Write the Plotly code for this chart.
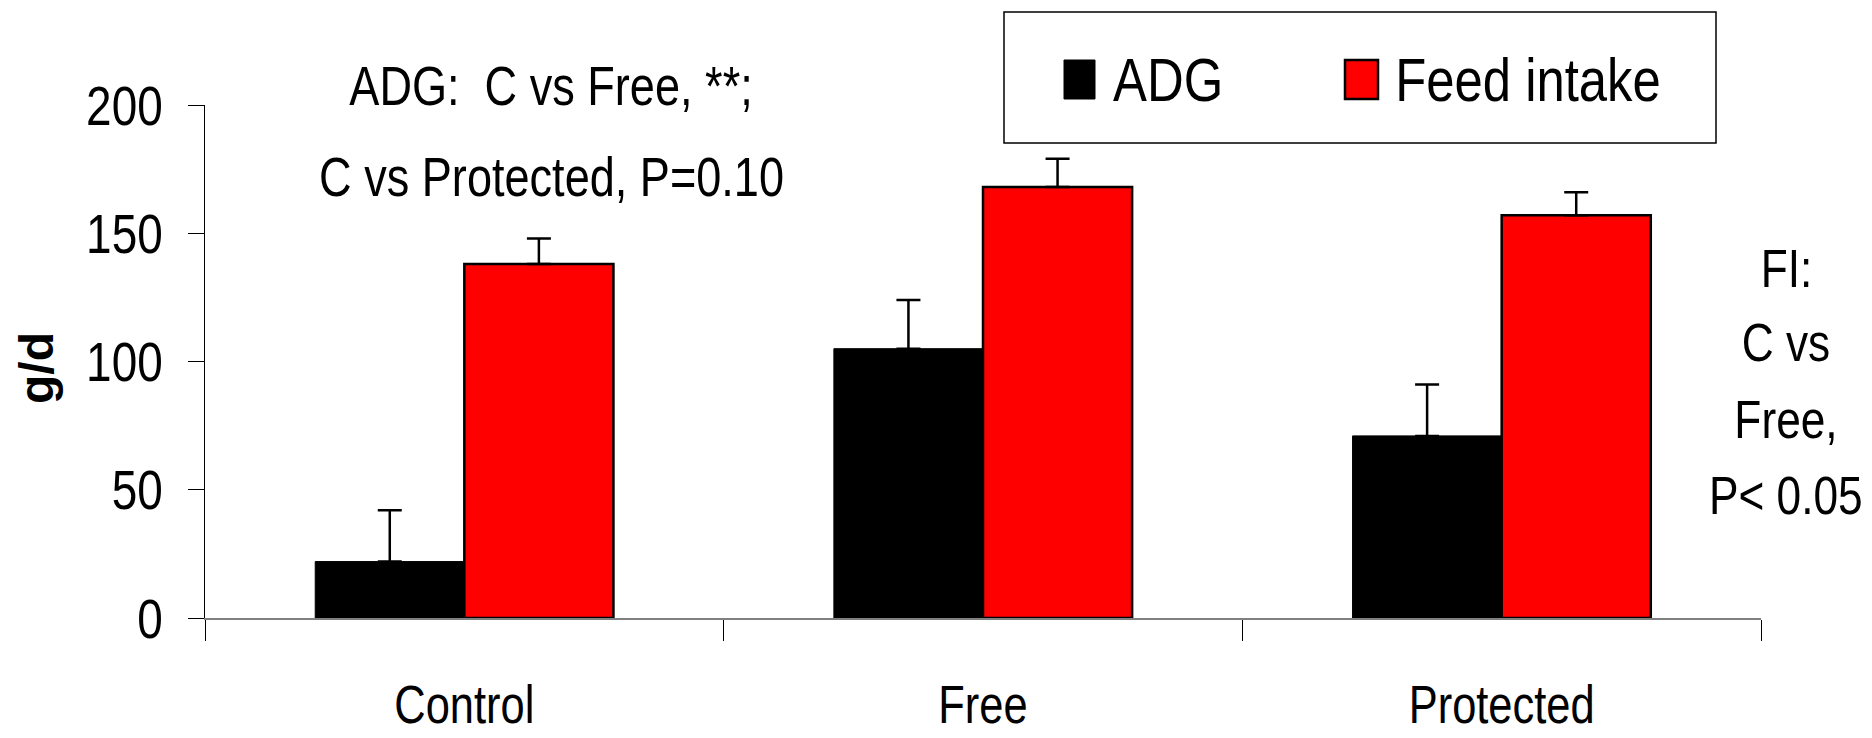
import plotly.graph_objects as go

# Treatment groups and measured responses (g/d)
groups = ["Control", "Free", "Protected"]
adg = [22, 105, 71]
adg_se = [20, 19, 20]
feed_intake = [138, 168, 157]
feed_intake_se = [10, 11, 9]

y_ticks = [0, 50, 100, 150, 200]

W, H = 1872, 738
M_L, M_R, M_T, M_B = 205, 111, 105, 120
PW, PH = W - M_L - M_R, H - M_T - M_B

SANS = "Liberation Sans, Arial, sans-serif"


def px_x(x):
    return (x - M_L) / PW


def px_y(y):
    return (H - M_B - y) / PH


fig = go.Figure()
fig.add_trace(go.Bar(
    x=groups, y=adg, name="ADG",
    marker=dict(color="#000000", line=dict(color="#000000", width=1)),
    error_y=dict(type="data", symmetric=False, array=adg_se,
                 arrayminus=[0] * len(adg_se), color="#000000",
                 thickness=2.5, width=12),
))
fig.add_trace(go.Bar(
    x=groups, y=feed_intake, name="Feed intake",
    marker=dict(color="#FF0000", line=dict(color="#000000", width=2.5)),
    error_y=dict(type="data", symmetric=False, array=feed_intake_se,
                 arrayminus=[0] * len(feed_intake_se), color="#000000",
                 thickness=2.5, width=12),
))

annotations = []
# Statistical notes
for text, yc in [("ADG:  C vs Free, **;", 86), ("C vs Protected, P=0.10", 177)]:
    annotations.append(dict(text=text, x=px_x(551), y=px_y(yc), xref="paper", yref="paper",
                            xanchor="center", yanchor="middle", showarrow=False,
                            font=dict(family=SANS, size=55, color="#000000")))
for text, yc in [("FI:", 268), ("C vs", 342), ("Free,", 419), ("P< 0.05", 495)]:
    annotations.append(dict(text=text, x=px_x(1786), y=px_y(yc), xref="paper", yref="paper",
                            xanchor="center", yanchor="middle", showarrow=False,
                            font=dict(family=SANS, size=54, color="#000000")))

# Y-axis title
annotations.append(dict(text="<b>g/d</b>", x=px_x(36), y=px_y(368), xref="paper", yref="paper",
                        xanchor="center", yanchor="middle", textangle=-90, showarrow=False,
                        font=dict(family=SANS, size=48, color="#000000")))

# Legend box drawn as layout shapes
shapes = [
    dict(type="rect", xref="paper", yref="paper",
         x0=px_x(1004), x1=px_x(1716), y0=px_y(143), y1=px_y(12),
         line=dict(color="#000000", width=1.5), fillcolor="#FFFFFF", layer="above"),
    dict(type="rect", xref="paper", yref="paper",
         x0=px_x(1064), x1=px_x(1095), y0=px_y(99), y1=px_y(60),
         line=dict(color="#000000", width=1), fillcolor="#000000", layer="above"),
    dict(type="rect", xref="paper", yref="paper",
         x0=px_x(1345), x1=px_x(1378), y0=px_y(99), y1=px_y(60),
         line=dict(color="#000000", width=2.5), fillcolor="#FF0000", layer="above"),
]
for text, xc in [("ADG", 1168), ("Feed intake", 1528)]:
    annotations.append(dict(text=text, x=px_x(xc), y=px_y(80), xref="paper", yref="paper",
                            xanchor="center", yanchor="middle", showarrow=False,
                            font=dict(family=SANS, size=62, color="#000000")))

fig.update_layout(
    width=W, height=H,
    margin=dict(l=M_L, r=M_R, t=M_T, b=M_B, pad=0),
    paper_bgcolor="#FFFFFF", plot_bgcolor="#FFFFFF",
    barmode="group", bargap=0.425, bargroupgap=0,
    showlegend=False,
    annotations=annotations, shapes=shapes,
    xaxis=dict(
        type="category", tickson="boundaries", ticks="outside", ticklen=21,
        tickcolor="#000000", tickwidth=1.2, automargin=False,
        showline=True, linecolor="#808080", linewidth=2,
        showgrid=False, zeroline=False,
        tickfont=dict(family=SANS, size=53, color="#000000"),
        ticklabelstandoff=39,
    ),
    yaxis=dict(
        range=[0, 200], tickvals=y_ticks, ticks="outside", ticklen=16,
        tickcolor="#000000", tickwidth=1.2, automargin=False,
        showline=True, linecolor="#000000", linewidth=1.2,
        showgrid=False, zeroline=False,
        tickfont=dict(family=SANS, size=56, color="#000000"),
        ticklabelstandoff=14,
    ),
)

# Narrow lettering: squeeze each label horizontally about its own anchor point
# (the bold axis title keeps its normal width).
CONDENSE_JS = """
var gd = document.getElementById('{plot_id}');
gd.querySelectorAll('text').forEach(function (t) {
    if (t.textContent === 'g/d') { return; }
    var x = parseFloat(t.getAttribute('x')) || 0;
    var y = parseFloat(t.getAttribute('y')) || 0;
    var tr = t.getAttribute('transform') || '';
    t.setAttribute('transform', tr + ' translate(' + x + ',' + y + ') scale(0.82,1) translate(' + (-x) + ',' + (-y) + ')');
});
"""

fig.write_html("out.html", post_script=CONDENSE_JS)
